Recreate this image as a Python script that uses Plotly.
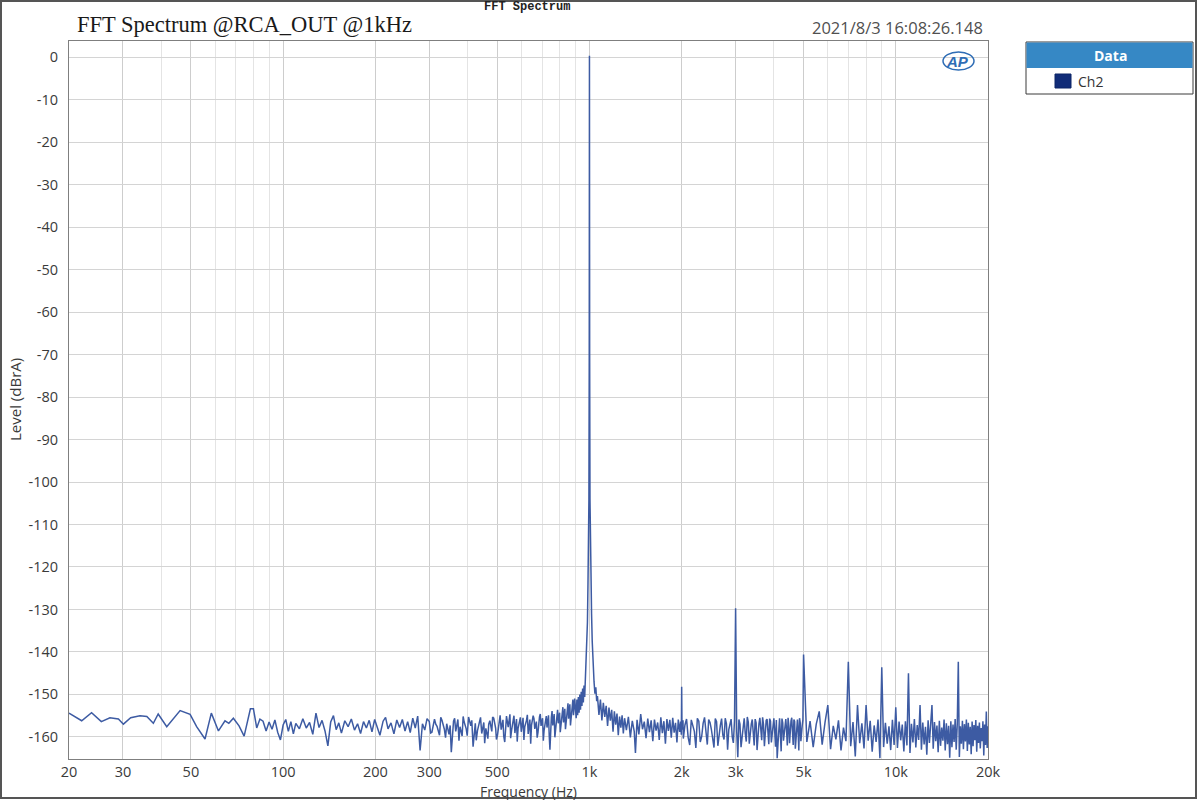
import math
import plotly.graph_objects as go

# ---------------- data ----------------
# (frequency Hz, level dBrA) pairs, grouped by frequency band
band_20_80 = [
    (20.0, -154.4), (22.0, -156.2), (23.7, -154.3), (25.5, -156.4), (27.2, -155.5),
    (29.0, -155.8), (30.1, -157.0), (31.8, -155.5), (34.1, -155.0), (35.9, -155.2),
    (37.7, -156.8), (39.1, -154.6), (41.7, -157.6), (43.7, -155.8), (46.1, -153.8),
    (49.7, -154.7), (52.2, -157.6), (55.6, -160.5), (58.3, -154.4), (61.5, -158.6),
    (64.6, -156.2), (66.5, -156.8), (68.8, -155.6), (71.8, -157.4), (74.6, -159.8),
    (78.2, -153.4),
]

band_80_300 = [
    (80, -153.4), (82, -157.9), (84, -155.8), (86, -156.3), (88, -158.6), (90, -156.5),
    (92, -158.2), (94, -156.0), (96, -158.9), (98, -160.7), (100, -157.2), (102, -155.9),
    (104, -158.7), (106, -156.4), (108, -159.3), (110, -156.8), (113, -158.1), (116, -155.7),
    (119, -157.9), (122, -156.6), (125, -159.4), (128, -154.4), (131, -157.8), (134, -156.1),
    (137, -158.6), (140, -162.1), (143, -156.5), (146, -155.0), (149, -158.3), (152, -156.7),
    (155, -159.1), (159, -156.2), (163, -157.6), (167, -155.8), (171, -158.4), (175, -156.9),
    (179, -159.2), (183, -156.4), (187, -157.9), (191, -156.1), (195, -158.8), (199, -155.9),
    (203, -157.7), (207, -159.6), (212, -156.3), (216, -155.4), (220, -158.1), (225, -156.7),
    (230, -159.3), (235, -156.0), (240, -157.8), (245, -155.9), (250, -158.6), (255, -156.4),
    (260, -159.0), (265, -155.6), (270, -157.9), (275, -155.1), (280, -163.2), (285, -156.9),
    (290, -158.4), (295, -155.7),
]

band_300_900 = [
    (300, -156.4), (306, -158.9), (312, -155.8), (318, -157.5), (324, -159.6), (330, -156.1),
    (336, -158.2), (342, -156.9), (348, -159.4), (354, -163.6), (360, -156.3), (366, -158.7),
    (372, -155.9), (378, -157.6), (384, -159.8), (390, -156.5), (396, -158.1), (403, -155.3),
    (410, -157.4), (417, -162.3), (424, -156.8), (431, -158.5), (438, -155.9), (445, -159.2),
    (452, -156.6), (459, -158.0), (466, -160.4), (473, -156.2), (480, -158.7), (487, -155.6),
    (494, -157.9), (501, -159.6), (508, -156.4), (515, -158.3), (522, -156.0), (529, -161.2),
    (536, -155.1), (543, -157.7), (550, -154.7), (557, -158.4), (564, -156.3), (571, -159.1),
    (578, -155.8), (585, -157.9), (592, -156.2), (599, -158.8), (607, -155.5), (615, -157.6),
    (623, -156.1), (631, -159.3), (639, -155.9), (647, -157.2), (655, -155.0), (663, -158.1),
    (671, -156.4), (679, -159.0), (687, -155.3), (695, -157.4), (703, -155.6), (711, -158.5),
    (719, -156.2), (727, -157.8), (735, -154.9), (743, -163.0), (751, -155.4), (759, -157.3),
    (767, -154.6), (775, -157.9), (783, -155.2), (791, -156.8), (799, -154.3), (807, -157.1),
    (815, -153.9), (823, -156.6), (831, -153.4), (839, -156.2), (847, -152.8), (855, -155.7),
    (863, -152.3), (871, -155.4), (879, -151.5), (887, -154.9), (895, -151.0),
]

band_300_900_mid = [
    (303, -159.1), (315, -157.0), (327, -155.4), (339, -160.2), (351, -157.3), (363, -155.6),
    (375, -160.9), (387, -155.2), (399, -159.7), (413, -156.1), (427, -160.8), (441, -155.4),
    (455, -161.5), (469, -157.0), (483, -155.3), (497, -160.6), (511, -154.9), (525, -159.8),
    (539, -156.6), (553, -160.3), (567, -155.0), (581, -161.1), (595, -155.4), (611, -160.7),
    (627, -154.8), (643, -161.6), (659, -155.7), (675, -160.2), (691, -154.6), (707, -160.9),
    (723, -155.1), (739, -159.6), (755, -153.9), (771, -160.1), (787, -153.6), (803, -158.9),
    (819, -153.0), (835, -158.2), (851, -152.1), (867, -157.3), (883, -151.2),
]

band_fundamental = [
    (905, -155.6), (910, -151.2), (915, -154.9), (920, -150.6), (925, -154.3), (930, -150.0),
    (935, -153.6), (940, -149.4), (945, -152.7), (950, -148.6), (955, -151.9), (960, -147.9),
    (965, -150.6), (970, -146.2), (975, -143.8), (980, -139.5), (985, -133.0), (989, -124.0),
    (993, -114.0), (996, -104.0), (998.5, -70.0), (999.5, -30.0), (1000, 0.3),
    (1000.5, -30.0), (1001.5, -70.0), (1004, -104.0), (1007, -114.0), (1011, -123.0),
    (1016, -131.0), (1021, -137.5), (1028, -144.5), (1035, -147.0), (1042, -149.8),
    (1049, -148.3), (1056, -151.6),
]

band_1k_2k = [
    (1062, -150.4), (1074, -154.8), (1086, -151.2), (1098, -156.1), (1110, -152.0),
    (1122, -155.3), (1134, -152.7), (1146, -157.4), (1158, -153.1), (1170, -156.2),
    (1182, -153.6), (1194, -158.8), (1206, -154.0), (1218, -157.1), (1230, -154.5),
    (1242, -159.6), (1254, -155.2), (1266, -157.8), (1278, -154.9), (1290, -159.2),
    (1302, -155.6), (1320, -158.4), (1340, -155.3), (1360, -160.1), (1380, -156.2),
    (1400, -158.7), (1413, -163.8), (1430, -156.0), (1450, -159.4), (1470, -154.6),
    (1490, -158.2), (1510, -156.4), (1530, -160.3), (1550, -155.7), (1570, -158.9),
    (1590, -156.1), (1610, -161.0), (1630, -155.9), (1650, -158.5), (1670, -156.6),
    (1690, -160.7), (1710, -155.4), (1730, -159.1), (1750, -156.3), (1770, -161.6),
    (1790, -155.8), (1810, -158.6), (1830, -156.0), (1850, -160.2), (1870, -155.5),
    (1890, -159.0), (1910, -156.7), (1930, -161.3), (1950, -155.9), (1970, -158.8),
    (1985, -156.4), (1995, -159.5), (2000, -148.2), (2005, -158.3), (2020, -156.1),
]

band_2k_5k = [
    (2050, -157.2), (2100, -160.1), (2150, -156.0), (2200, -158.7), (2250, -155.6),
    (2300, -161.2), (2350, -156.8), (2400, -159.4), (2450, -155.9), (2500, -158.2),
    (2550, -162.5), (2600, -156.4), (2650, -159.0), (2700, -155.7), (2750, -160.6),
    (2800, -156.9), (2850, -158.3), (2900, -155.8), (2950, -161.4), (3000, -129.7),
    (3050, -164.8), (3100, -157.0), (3150, -159.6), (3200, -155.6), (3250, -161.1),
    (3300, -156.5), (3350, -158.9), (3400, -155.9), (3450, -162.0), (3500, -156.7),
    (3550, -159.3), (3600, -155.5), (3650, -160.8), (3700, -157.1), (3750, -158.6),
    (3800, -155.8), (3850, -161.7), (3900, -156.3), (3950, -159.8), (4000, -155.6),
    (4050, -162.3), (4100, -165.0), (4150, -156.4), (4200, -159.2), (4250, -155.7),
    (4300, -160.9), (4350, -156.8), (4400, -158.4), (4450, -155.5), (4500, -161.5),
    (4550, -156.2), (4600, -159.7), (4650, -155.9), (4700, -162.8), (4750, -156.5),
    (4800, -158.9), (4850, -155.6), (4900, -161.0), (4950, -157.3),
]

band_2k_5k_mid = [
    (2025, -160.4), (2075, -155.8), (2125, -161.9), (2175, -157.1), (2225, -162.6),
    (2275, -156.3), (2325, -159.9), (2375, -155.4), (2425, -161.8), (2475, -156.6),
    (2525, -160.2), (2575, -155.7), (2625, -162.1), (2675, -157.3), (2725, -159.5),
    (2775, -155.6), (2825, -163.0), (2875, -156.8), (2925, -160.0), (2975, -156.2),
    (3025, -158.8), (3075, -155.9), (3125, -162.4), (3175, -156.5), (3225, -159.1),
    (3275, -155.3), (3325, -161.6), (3375, -157.0), (3425, -159.7), (3475, -155.8),
    (3525, -163.1), (3575, -156.9), (3625, -158.5), (3675, -155.4), (3725, -162.2),
    (3775, -156.1), (3825, -159.3), (3875, -155.7), (3925, -161.3), (3975, -157.4),
    (4025, -158.7), (4075, -156.0), (4125, -161.7), (4175, -155.6), (4225, -163.4),
    (4275, -156.7), (4325, -159.0), (4375, -155.8), (4425, -162.0), (4475, -157.2),
    (4525, -158.3), (4575, -155.5), (4625, -161.9), (4675, -156.4), (4725, -159.4),
    (4775, -155.9), (4825, -163.2), (4875, -156.6), (4925, -159.8), (4975, -156.0),
]

band_5k_20k = [
    (5000, -140.6), (5125, -161.2), (5250, -156.3), (5375, -162.4), (5500, -157.0),
    (5625, -154.0), (5750, -161.8), (5875, -156.6), (6000, -152.5), (6125, -162.9),
    (6250, -157.4), (6375, -160.6), (6500, -156.1), (6625, -163.2), (6750, -157.8),
    (6875, -161.0), (7000, -142.3), (7125, -162.2), (7250, -156.5), (7375, -164.6),
    (7500, -152.5), (7625, -161.5), (7750, -156.8), (7875, -162.7), (8000, -152.5),
    (8125, -160.9), (8250, -156.2), (8375, -163.5), (8500, -157.3), (8625, -161.2),
    (8750, -155.9), (8875, -165.0), (9000, -143.6), (9125, -162.4), (9250, -156.7),
    (9375, -161.6), (9500, -157.5), (9625, -163.1), (9750, -156.0), (9875, -161.9),
    (10000, -153.0), (10125, -162.6), (10250, -156.4), (10375, -160.8), (10500, -157.1),
    (10625, -163.4), (10750, -156.3), (10875, -162.0), (11000, -145.0), (11125, -163.8),
    (11250, -156.9), (11375, -161.3), (11500, -155.8), (11625, -162.5), (11750, -157.2),
    (11875, -160.7), (12000, -152.5), (12125, -163.0), (12250, -156.6), (12375, -161.8),
    (12500, -157.6), (12625, -164.2), (12750, -156.1), (12875, -161.4), (13000, -157.0),
    (13125, -152.5), (13250, -162.8), (13375, -156.5), (13500, -161.0), (13625, -157.3),
    (13750, -163.6), (13875, -156.2), (14000, -162.1), (14125, -157.8), (14250, -160.9),
    (14375, -155.9), (14500, -163.2), (14625, -156.8), (14750, -161.7), (14875, -157.4),
    (15000, -164.9), (15125, -156.3), (15250, -162.4), (15375, -157.1), (15500, -161.2),
    (15625, -155.8), (15750, -163.0), (15875, -156.9), (16000, -142.3), (16125, -164.7),
    (16250, -157.5), (16375, -161.6), (16500, -156.2), (16625, -162.9), (16750, -157.0),
    (16875, -161.1), (17000, -155.9), (17125, -163.3), (17250, -156.7), (17375, -161.8),
    (17500, -157.6), (17625, -164.1), (17750, -156.4), (17875, -162.2), (18000, -157.2),
    (18125, -160.8), (18250, -156.0), (18375, -163.5), (18500, -157.4), (18625, -161.4),
    (18750, -156.6), (18875, -162.7), (19000, -157.9), (19125, -161.0), (19250, -156.3),
    (19375, -164.4), (19500, -157.1), (19625, -161.9), (19750, -154.0), (19875, -162.6),
    (20000, -157.5),
]

x_tick_vals = [20, 30, 50, 100, 200, 300, 500, 1000, 2000, 3000, 5000, 10000, 20000]
x_tick_text = ["20", "30", "50", "100", "200", "300", "500", "1k", "2k", "3k", "5k", "10k", "20k"]
x_minor_vals = [40, 60, 70, 80, 90, 400, 600, 700, 800, 900,
                4000, 6000, 7000, 8000, 9000]
y_tick_vals = [0, -10, -20, -30, -40, -50, -60, -70, -80, -90, -100,
               -110, -120, -130, -140, -150, -160]
y_tick_text = [str(v) for v in y_tick_vals]

title_text = "FFT Spectrum @RCA_OUT @1kHz"
top_caption = "FFT Spectrum"
timestamp_text = "2021/8/3 16:08:26.148"
series_name = "Ch2"
legend_header = "Data"

# ---------------- build ----------------
segments = [band_20_80, band_80_300, band_300_900, band_300_900_mid, band_fundamental,
            band_1k_2k, band_2k_5k, band_2k_5k_mid, band_5k_20k]
points = sorted(p for seg in segments for p in seg)
freq = [p[0] for p in points]
level = [p[1] for p in points]

W, H = 1200, 800
ML, MR, MT, MB = 69, 212, 41, 41
PW, PH = W - ML - MR, H - MT - MB


def px(x):
    return (x - ML) / PW


def py(y):
    return (H - MB - y) / PH


TICK_FONT = dict(family="Open Sans, Noto Sans, sans-serif", size=14.5, color="#3a3a3a")

fig = go.Figure()
fig.add_trace(go.Scatter(
    x=freq, y=level, mode="lines", name=series_name,
    line=dict(color="#3d5ba3", width=1.5),
    showlegend=False, hoverinfo="skip",
))

fig.update_layout(
    width=W, height=H, autosize=False,
    margin=dict(l=ML, r=MR, t=MT, b=MB, pad=0),
    paper_bgcolor="white", plot_bgcolor="white",
    showlegend=False,
    xaxis=dict(
        type="log",
        range=[math.log10(20), math.log10(20000)],
        tickmode="array", tickvals=x_tick_vals, ticktext=x_tick_text,
        showgrid=True, gridcolor="#cdcdcd", gridwidth=1,
        minor=dict(tickmode="array", tickvals=x_minor_vals, showgrid=True,
                   gridcolor="#e4e4e4", gridwidth=1, ticks=""),
        showline=True, linecolor="#7f7f7f", linewidth=1, mirror=True,
        ticks="", ticklabelstandoff=0, tickfont=TICK_FONT, zeroline=False,
    ),
    yaxis=dict(
        range=[-165.2, 3.8],
        tickmode="array", tickvals=y_tick_vals, ticktext=y_tick_text,
        showgrid=True, gridcolor="#d4d4d4", gridwidth=1,
        showline=True, linecolor="#7f7f7f", linewidth=1, mirror=True,
        ticks="", ticklabelstandoff=7, tickfont=TICK_FONT, zeroline=False,
    ),
)

annotations = [
    dict(text=title_text, x=px(75), y=py(25), xanchor="left", yanchor="middle",
         font=dict(family="Liberation Serif, Times New Roman, serif", size=22.5, color="#1a1a1a")),
    dict(text="<b>" + top_caption + "</b>", x=px(527), y=py(7), xanchor="center",
         yanchor="middle",
         font=dict(family="Liberation Mono, Courier New, monospace", size=12, color="#222222")),
    dict(text=timestamp_text, x=px(985), y=py(27), xanchor="right", yanchor="middle",
         font=dict(family="Open Sans, Noto Sans, sans-serif", size=16.5, color="#505050")),
    dict(text="Frequency (Hz)", x=px(528), y=py(791), xanchor="center", yanchor="middle",
         font=dict(family="Open Sans, Noto Sans, sans-serif", size=14, color="#3a3a3a")),
    dict(text="Level (dBrA)", x=px(15), y=py(400), xanchor="center", yanchor="middle",
         textangle=-90,
         font=dict(family="Open Sans, Noto Sans, sans-serif", size=15, color="#3a3a3a")),
    dict(text="<b><i>AP</i></b>", x=px(957), y=py(61), xanchor="center", yanchor="middle",
         font=dict(family="Liberation Sans, Arial, sans-serif", size=15, color="#2f6db5")),
    dict(text="<b>" + legend_header + "</b>", x=px(1110), y=py(55), xanchor="center",
         yanchor="middle",
         font=dict(family="Open Sans, Noto Sans, sans-serif", size=14, color="white")),
    dict(text=series_name, x=px(1076), y=py(81), xanchor="left", yanchor="middle",
         font=dict(family="Open Sans, Noto Sans, sans-serif", size=14, color="#333333")),
]
for a in annotations:
    a.update(xref="paper", yref="paper", showarrow=False)
fig.update_layout(annotations=annotations)

shapes = [
    # outer frame of the picture
    dict(type="rect", x0=px(1), x1=px(1196), y0=py(798), y1=py(1),
         line=dict(color="#555555", width=2), fillcolor="rgba(0,0,0,0)", layer="above"),
    # legend box
    dict(type="rect", x0=px(1026), x1=px(1193), y0=py(94), y1=py(42),
         line=dict(color="#3a3a3a", width=1), fillcolor="white"),
    dict(type="rect", x0=px(1026.5), x1=px(1192.5), y0=py(68), y1=py(42.5),
         line=dict(width=0), fillcolor="#3688c5"),
    dict(type="rect", x0=px(1055), x1=px(1071), y0=py(88), y1=py(74),
         line=dict(color="#0c2466", width=1), fillcolor="#112c78"),
    # AP logo swoosh
    dict(type="circle", x0=px(943), x1=px(974), y0=py(70), y1=py(52),
         line=dict(color="#2f6db5", width=1.5), fillcolor="rgba(0,0,0,0)"),
]
for s in shapes:
    s.update(xref="paper", yref="paper")
fig.update_layout(shapes=shapes)

fig.write_html(
    "out.html",
    config={"displayModeBar": False},
    post_script=("document.body.style.margin='0';"
                 "document.body.style.padding='0';"
                 "document.body.style.overflow='hidden';"),
)
